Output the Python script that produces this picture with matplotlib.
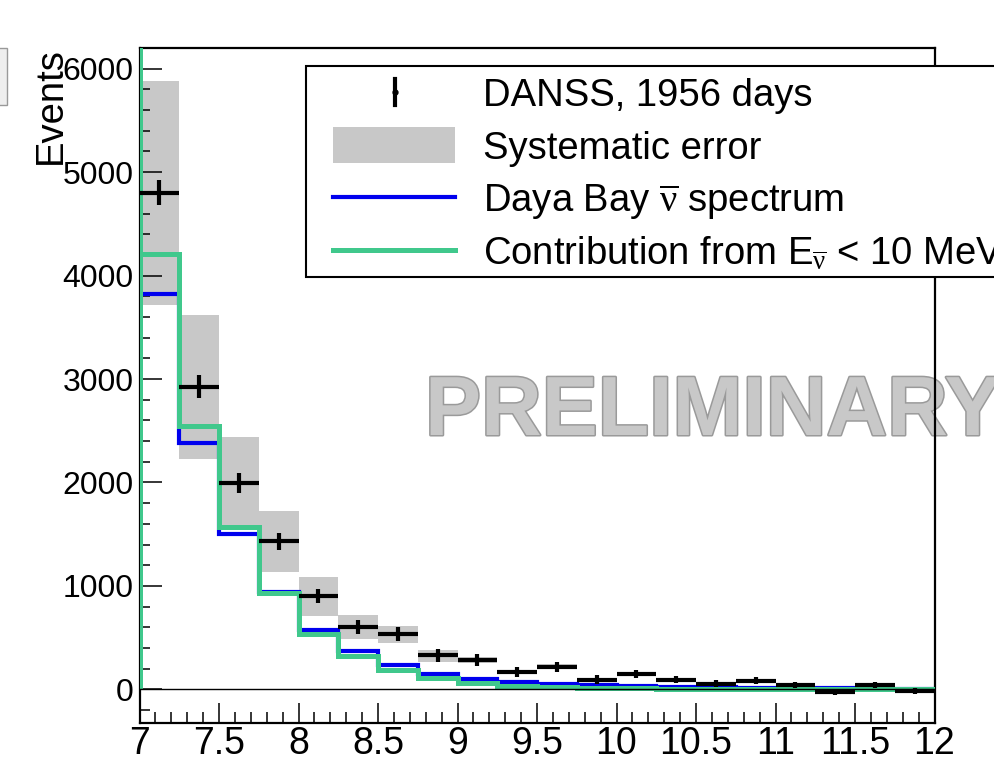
import numpy as np
import matplotlib
matplotlib.use("Agg")
from matplotlib import pyplot as plt
from matplotlib.patches import Rectangle
from matplotlib.lines import Line2D
import matplotlib.patheffects as pe

plt.rcParams['font.family'] = ['Liberation Sans', 'DejaVu Sans']
# upright serif nu, like the ROOT output
plt.rcParams['mathtext.fontset'] = 'custom'
plt.rcParams['mathtext.rm'] = 'Liberation Serif'
plt.rcParams['mathtext.it'] = 'Liberation Serif'
plt.rcParams['mathtext.bf'] = 'Liberation Serif:bold'

# binning, MeV
edges = np.linspace(7.0, 12.0, 21)
centers = 0.5 * (edges[:-1] + edges[1:])

# DANSS points with stat errors
danss = [4800, 2925, 1995, 1430, 900, 600, 535, 330, 285, 165,
         220, 95, 150, 95, 55, 84, 42, -26, 45, -16]
stat = [120, 110, 95, 80, 68, 66, 64, 62, 58, 50,
        48, 40, 42, 38, 34, 34, 32, 32, 30, 30]
# systematic band, low/high edge per bin
sys_lo = [3720, 2226, 1581, 1139, 710, 484, 445, 268, 255, 145,
          195, 85, 135, 85, 48, 75, 35, -32, 38, -22]
sys_hi = [5880, 3623, 2439, 1726, 1090, 719, 616, 381, 315, 185,
          245, 105, 165, 105, 62, 93, 49, -20, 52, -10]
# predictions
daya_bay = [3825, 2381, 1500, 945, 574, 368, 235, 150, 97, 68,
            55, 40, 32, 26, 20, 16, 13, 10, 8, 6]
contrib = [4210, 2548, 1565, 929, 532, 323, 190, 110, 65, 32,
           22, 16, 10, 7, 5, 4, 3, 2, 1, 0]

W, H = 994, 764
GRAY = '#c8c8c8'
BLUE = '#0000ee'
GREEN = '#40c88c'


def fx(px):
    return px / W


def fy(py):
    return 1 - py / H


fig = plt.figure(figsize=(W / 100, H / 100), dpi=100)
ax = fig.add_axes([fx(139.5), fy(723), fx(934.5) - fx(139.5), fy(48) - fy(723)])

lo = np.array(sys_lo)
hi = np.array(sys_hi)
ax.bar(centers, hi - lo, bottom=lo, width=0.25, color=GRAY, lw=0, zorder=1)

ax.stairs(daya_bay, edges, baseline=0, color=BLUE, lw=3.0, zorder=2)
ax.stairs(contrib, edges, baseline=0, color=GREEN, lw=3.6, zorder=3)
ax.vlines(edges[0], 0, 7000, color=GREEN, lw=3.6, zorder=3)
ax.axhline(0, color='k', lw=1.0, zorder=3.5)

ax.errorbar(centers, danss, xerr=0.125, yerr=stat, fmt='none',
            ecolor='k', elinewidth=3, capsize=0, zorder=4)

ax.set_xlim(7, 12)
ax.set_ylim(-325, 6200)
ax.set_xticks([7, 7.5, 8, 8.5, 9, 9.5, 10, 10.5, 11, 11.5, 12])
ax.set_xticklabels(['7', '7.5', '8', '8.5', '9', '9.5', '10', '10.5', '11', '11.5', '12'])
ax.set_xticks(np.arange(7, 12.01, 0.1), minor=True)
ax.set_yticks([0, 1000, 2000, 3000, 4000, 5000, 6000])
ax.set_yticks(np.arange(-200, 6201, 200), minor=True)
ax.tick_params(which='both', direction='in', top=False, right=False, width=1.1, color='k')
ax.tick_params(axis='x', which='major', length=14.4, labelsize=27, pad=2)
ax.tick_params(axis='x', which='minor', length=8)
ax.tick_params(axis='y', which='major', length=15.8, labelsize=23, pad=4.3)
ax.tick_params(axis='y', which='minor', length=7.2)
for s in ax.spines.values():
    s.set_linewidth(1.6)

# watermark, under the frame
ax.text(fx(425), fy(435), 'PRELIMINARY', transform=fig.transFigure,
        fontsize=60.5, fontweight='bold', color='#c8c8c8', ha='left', va='baseline',
        clip_on=False, zorder=1.5,
        path_effects=[pe.withStroke(linewidth=2.2, foreground='#9a9a9a')])

fig.text(fx(61), fy(47), 'Events', rotation=90, rotation_mode='anchor',
         ha='right', va='baseline', fontsize=27.5)

# legend drawn by hand, it runs past the right edge
box = Rectangle((fx(306), fy(277)), fx(1010) - fx(306), fy(66) - fy(277),
                transform=fig.transFigure, fc='white', ec='k', lw=1.5, zorder=10)
fig.add_artist(box)
fig.add_artist(Line2D([fx(395), fx(395)], [fy(79), fy(105)], transform=fig.transFigure,
                      color='k', lw=3, zorder=11))
fig.add_artist(Line2D([fx(395)], [fy(92)], transform=fig.transFigure, marker='o',
                      ms=3.5, color='k', zorder=11))
fig.add_artist(Rectangle((fx(333), fy(163)), fx(455) - fx(333), fy(127) - fy(163),
                         transform=fig.transFigure, fc=GRAY, lw=0, zorder=11))
fig.add_artist(Line2D([fx(333), fx(455)], [fy(197), fy(197)], transform=fig.transFigure,
                      color=BLUE, lw=3.0, zorder=11))
fig.add_artist(Line2D([fx(333), fx(455)], [fy(250), fy(250)], transform=fig.transFigure,
                      color=GREEN, lw=3.6, zorder=11))

labels = ['DANSS, 1956 days',
          'Systematic error',
          r'Daya Bay $\overline{\nu}$ spectrum',
          r'Contribution from $\mathregular{E}_{\overline{\nu}}$ < 10 MeV']
for lab, ypx in zip(labels, [92, 145, 197, 250]):
    fig.text(fx(483), fy(ypx), lab, fontsize=27.5, ha='left', va='center_baseline', zorder=12)

# leftover of a neighbouring panel at the very left
fig.add_artist(Rectangle((fx(-2), fy(105)), fx(7) - fx(-2), fy(48) - fy(105),
                         transform=fig.transFigure, fc='#eeeeee', ec='#999999', lw=1))

fig.savefig('out.png', dpi=100)
